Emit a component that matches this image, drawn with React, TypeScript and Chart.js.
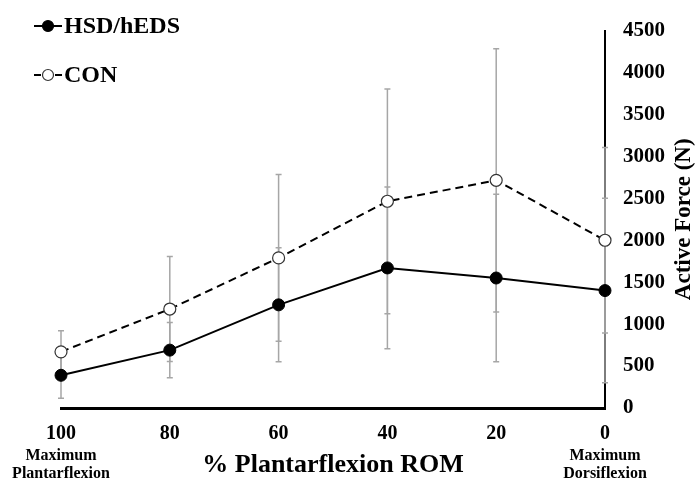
import React, { useEffect, useRef } from "react";
import { Chart, registerables } from "chart.js";

Chart.register(...registerables);

// ---- data ----
const romPercent = [100, 80, 60, 40, 20, 0];
const hsdMean = [390, 690, 1230, 1670, 1550, 1400];
const hsdSD = [275, 330, 680, 965, 1000, 1100];
const conMean = [670, 1180, 1790, 2465, 2715, 2000];
const conSD = [250, 625, 995, 1340, 1570, 1105];
const seriesNames = ["HSD/hEDS", "CON"];
const xTitle = "% Plantarflexion ROM";
const yTitle = "Active Force (N)";
const leftEndLabel = ["Maximum", "Plantarflexion"];
const rightEndLabel = ["Maximum", "Dorsiflexion"];
const yMin = 0;
const yMax = 4500;
const yStep = 500;

const FONT = "'Liberation Serif', 'Times New Roman', serif";

const errorBarPlugin = {
  id: "errorBars",
  beforeDatasetsDraw(chart: any) {
    const { ctx } = chart;
    const xs = chart.scales.x;
    const ys = chart.scales.y;
    ctx.save();
    ctx.strokeStyle = "#a6a6a6";
    ctx.lineWidth = 1.5;
    chart.data.datasets.forEach((ds: any) => {
      const errs: number[] = ds.errors || [];
      ds.data.forEach((p: any, i: number) => {
        const e = errs[i];
        if (e == null) return;
        const px = xs.getPixelForValue(p.x);
        const top = ys.getPixelForValue(p.y + e);
        const bot = ys.getPixelForValue(p.y - e);
        ctx.beginPath();
        ctx.moveTo(px, top);
        ctx.lineTo(px, bot);
        ctx.moveTo(px - 3, top);
        ctx.lineTo(px + 3, top);
        ctx.moveTo(px - 3, bot);
        ctx.lineTo(px + 3, bot);
        ctx.stroke();
      });
    });
    ctx.restore();
  },
};

const textPlugin = {
  id: "extraText",
  afterDraw(chart: any) {
    const { ctx, chartArea } = chart;
    const xs = chart.scales.x;
    ctx.save();
    ctx.fillStyle = "#000";

    // legend
    const legendItems = [
      { name: seriesNames[0], y: 26, filled: true },
      { name: seriesNames[1], y: 75, filled: false },
    ];
    legendItems.forEach((it) => {
      ctx.strokeStyle = "#000";
      ctx.lineWidth = 2;
      ctx.beginPath();
      if (it.filled) {
        ctx.moveTo(34, it.y);
        ctx.lineTo(62, it.y);
      } else {
        ctx.moveTo(34, it.y);
        ctx.lineTo(41, it.y);
        ctx.moveTo(55, it.y);
        ctx.lineTo(62, it.y);
      }
      ctx.stroke();
      ctx.beginPath();
      ctx.arc(48, it.y, 5.5, 0, Math.PI * 2);
      ctx.fillStyle = it.filled ? "#000" : "#fff";
      ctx.fill();
      ctx.lineWidth = 1.2;
      ctx.strokeStyle = it.filled ? "#000" : "#333";
      ctx.stroke();
      ctx.fillStyle = "#000";
      ctx.font = `bold 24px ${FONT}`;
      ctx.textAlign = "left";
      ctx.textBaseline = "middle";
      ctx.fillText(it.name, 64, it.y + 1);
    });

    // x title
    ctx.font = `bold 26px ${FONT}`;
    ctx.textAlign = "center";
    ctx.textBaseline = "middle";
    ctx.fillText(xTitle, (chartArea.left + chartArea.right) / 2, 465);

    // end labels
    ctx.font = `bold 16px ${FONT}`;
    const lx = xs.getPixelForValue(romPercent[0]);
    const rx = xs.getPixelForValue(romPercent[romPercent.length - 1]);
    leftEndLabel.forEach((t, i) => ctx.fillText(t, lx, 456 + i * 18));
    rightEndLabel.forEach((t, i) => ctx.fillText(t, rx, 456 + i * 18));

    // y title (rotated, reading bottom to top)
    ctx.save();
    ctx.translate(684, (chartArea.top + chartArea.bottom) / 2);
    ctx.rotate(-Math.PI / 2);
    ctx.font = `bold 23px ${FONT}`;
    ctx.textAlign = "center";
    ctx.textBaseline = "middle";
    ctx.fillText(yTitle, 0, 0);
    ctx.restore();

    ctx.restore();
  },
};

export default function App() {
  const ref = useRef<HTMLCanvasElement>(null);
  useEffect(() => {
    document.body.style.margin = "0";
    const hsdData = romPercent.map((x, i) => ({ x, y: hsdMean[i] }));
    const conData = romPercent.map((x, i) => ({ x, y: conMean[i] }));
    const chart = new Chart(ref.current as HTMLCanvasElement, {
      type: "line",
      data: {
        datasets: [
          {
            label: seriesNames[0],
            data: hsdData,
            errors: hsdSD,
            borderColor: "#000",
            borderWidth: 2,
            pointRadius: 6,
            pointBackgroundColor: "#000",
            pointBorderColor: "#000",
            pointBorderWidth: 1,
            tension: 0,
            clip: false,
          } as any,
          {
            label: seriesNames[1],
            data: conData,
            errors: conSD,
            borderColor: "#000",
            borderWidth: 2,
            borderDash: [8, 5],
            pointRadius: 6,
            pointBackgroundColor: "#fff",
            pointBorderColor: "#333",
            pointBorderWidth: 1.2,
            tension: 0,
            clip: false,
          } as any,
        ],
      },
      options: {
        responsive: false,
        animation: false,
        devicePixelRatio: 1,
        layout: { padding: { top: 30, left: 61, right: 0, bottom: 0 } },
        plugins: {
          legend: { display: false },
          tooltip: { enabled: false },
          title: { display: false },
        },
        scales: {
          x: {
            type: "linear",
            reverse: true,
            min: 0,
            max: 100,
            afterBuildTicks: (s: any) => {
              s.ticks = romPercent.map((v) => ({ value: v }));
            },
            afterFit: (s: any) => {
              s.height = 76;
            },
            grid: { display: false, drawTicks: false },
            border: { display: true, color: "#000", width: 3 },
            ticks: {
              color: "#000",
              padding: 14,
              maxRotation: 0,
              autoSkip: false,
              callback: (v: any) => String(v),
              font: { family: FONT, size: 20, weight: "bold" },
            },
          },
          y: {
            type: "linear",
            position: "right",
            min: yMin,
            max: yMax,
            ticks: {
              stepSize: yStep,
              color: "#000",
              padding: 18,
              callback: (v: any) => String(v),
              font: { family: FONT, size: 21, weight: "bold" },
            },
            afterFit: (s: any) => {
              s.width = 92;
            },
            grid: { display: false, drawTicks: false },
            border: { display: true, color: "#000", width: 2 },
          },
        },
      },
      plugins: [errorBarPlugin, textPlugin],
    } as any);
    return () => chart.destroy();
  }, []);
  return (
    <div style={{ width: 697, height: 484 }}>
      <canvas ref={ref} width={697} height={484} style={{ display: "block" }} />
    </div>
  );
}
